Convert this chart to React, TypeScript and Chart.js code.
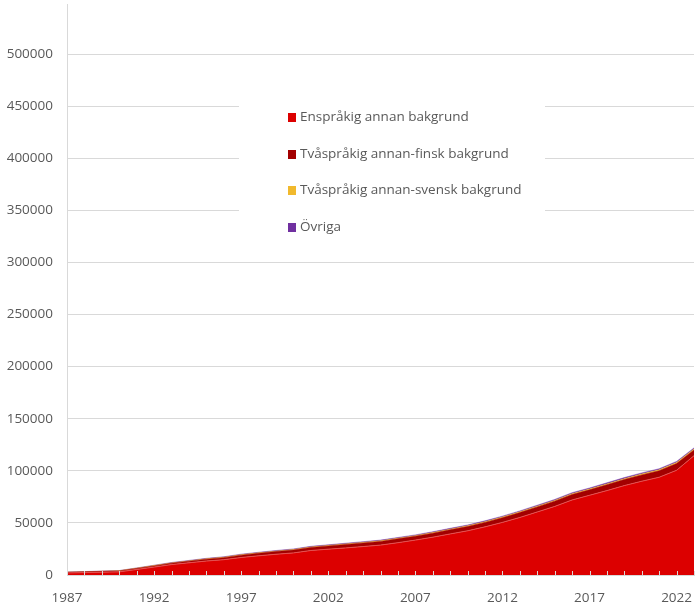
import React, { useEffect, useRef } from "react";
import Chart from "chart.js/auto";

const years: string[] = [
  "1987","1988","1989","1990","1991","1992","1993","1994","1995","1996",
  "1997","1998","1999","2000","2001","2002","2003","2004","2005","2006",
  "2007","2008","2009","2010","2011","2012","2013","2014","2015","2016",
  "2017","2018","2019","2020","2021","2022","2023",
];

const enspråkig: number[] = [
  2000, 2300, 2700, 3000, 5300, 7600, 10000, 11700, 13400, 14700,
  16800, 18400, 19900, 21200, 23500, 24800, 26000, 27300, 28700, 31000,
  33500, 36300, 39400, 42400, 46200, 50500, 55200, 60500, 65800, 72000,
  76500, 81000, 85800, 90000, 93800, 100500, 114500,
];
const tvåFinsk: number[] = [
  650, 750, 800, 950, 1000, 1100, 1300, 1550, 1750, 1950,
  2250, 2450, 2600, 2750, 2900, 3050, 3300, 3450, 3550, 3700,
  3700, 3800, 4000, 4100, 4300, 4400, 4700, 4800, 5000, 5200,
  5200, 5600, 5800, 6000, 6200, 6400, 5400,
];
const tvåSvensk: number[] = [
  100, 100, 100, 150, 250, 400, 300, 300, 350, 350,
  400, 400, 400, 450, 450, 500, 500, 550, 550, 550,
  550, 600, 600, 650, 650, 700, 700, 750, 750, 800,
  800, 850, 850, 900, 900, 950, 950,
];
const övriga: number[] = [
  150, 150, 200, 200, 250, 300, 400, 450, 500, 500,
  550, 550, 600, 600, 650, 650, 700, 700, 700, 750,
  750, 800, 800, 850, 850, 900, 900, 950, 950, 1000,
  1000, 1050, 1050, 1100, 1100, 1150, 1150,
];

const yTicks: number[] = [0, 50000, 100000, 150000, 200000, 250000, 300000, 350000, 400000, 450000, 500000];

const seriesNames: string[] = [
  "Enspråkig annan bakgrund",
  "Tvåspråkig annan-finsk bakgrund",
  "Tvåspråkig annan-svensk bakgrund",
  "Övriga",
];
const seriesColors: string[] = ["#dc0000", "#a30000", "#f1b92d", "#7030a0"];
const borderColors: string[] = ["#e45050", "#a30000", "#f1b92d", "#7a40b0"];

const FONT = "'Open Sans', sans-serif";
const TEXT = "#595959";
const GRID = "#d9d9d9";

const legendPlugin = {
  id: "customLegend",
  afterDatasetsDraw(chart: any) {
    const ctx = chart.ctx;
    ctx.save();
    ctx.fillStyle = "#ffffff";
    ctx.fillRect(239, 90, 306, 158);
    const rowsY = [117, 154, 190, 227];
    ctx.font = `13.5px ${FONT}`;
    ctx.textBaseline = "middle";
    ctx.textAlign = "left";
    seriesNames.forEach((name, i) => {
      ctx.fillStyle = seriesColors[i];
      ctx.fillRect(288, rowsY[i] - 4, 8, 9);
      ctx.fillStyle = TEXT;
      ctx.fillText(name, 300, rowsY[i]);
    });
    ctx.restore();
  },
};

const tickMarkPlugin = {
  id: "innerTicks",
  afterDatasetsDraw(chart: any) {
    const ctx = chart.ctx;
    const xs = chart.scales.x;
    const bottom = chart.chartArea.bottom;
    ctx.save();
    ctx.strokeStyle = GRID;
    ctx.lineWidth = 1;
    years.forEach((_, i) => {
      const x = Math.round(xs.getPixelForValue(i)) + 0.5;
      ctx.beginPath();
      ctx.moveTo(x, bottom - 4);
      ctx.lineTo(x, bottom + 1);
      ctx.stroke();
    });
    ctx.restore();
  },
};

export default function App() {
  const ref = useRef<HTMLCanvasElement>(null);
  useEffect(() => {
    if (!ref.current) return;
    const data = [enspråkig, tvåFinsk, tvåSvensk, övriga];
    const chart = new Chart(ref.current, {
      type: "line",
      data: {
        labels: years,
        datasets: data.map((d, i) => ({
          label: seriesNames[i],
          data: d,
          backgroundColor: seriesColors[i],
          borderColor: borderColors[i],
          borderWidth: i === 0 ? 1 : 0.5,
          pointRadius: 0,
          fill: i === 0 ? "origin" : "-1",
          tension: 0,
        })),
      },
      options: {
        responsive: false,
        animation: false,
        layout: { padding: { top: 4, right: 1, left: 0, bottom: 0 } },
        plugins: { legend: { display: false }, tooltip: { enabled: false } },
        scales: {
          x: {
            offset: false,
            grid: { display: false, drawTicks: false },
            border: { display: true, color: GRID },
            afterFit: (scale: any) => {
              scale.height = 34;
              scale.paddingLeft = 0;
              scale.paddingRight = 0;
            },
            ticks: {
              autoSkip: false,
              maxRotation: 0,
              padding: 15,
              color: TEXT,
              font: { family: FONT, size: 13.5 },
              callback: (_v: any, i: number) => (i % 5 === 0 ? years[i] : ""),
            },
          },
          y: {
            stacked: true,
            min: 0,
            max: 548000,
            afterBuildTicks: (scale: any) => {
              scale.ticks = yTicks.map((v) => ({ value: v }));
            },
            afterFit: (scale: any) => {
              scale.width = 67;
              scale.paddingTop = 0;
              scale.paddingBottom = 0;
            },
            grid: { color: GRID, drawTicks: false },
            border: { display: true, color: GRID },
            ticks: {
              padding: 14,
              color: TEXT,
              font: { family: FONT, size: 13.5 },
              callback: (v: any) => String(v),
            },
          },
        },
      },
      plugins: [tickMarkPlugin, legendPlugin],
    });
    return () => chart.destroy();
  }, []);
  return (
    <div style={{ position: "absolute", left: 0, top: 0, width: 695, height: 609, background: "#fff" }}>
      <canvas ref={ref} width={695} height={609} />
    </div>
  );
}
